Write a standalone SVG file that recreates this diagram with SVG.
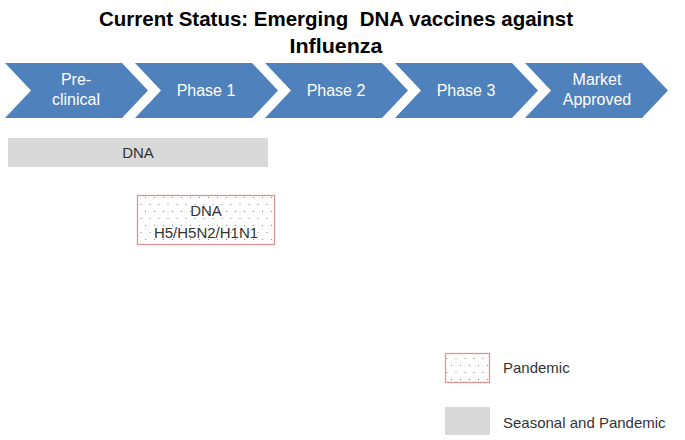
<svg xmlns="http://www.w3.org/2000/svg" width="685" height="440" viewBox="0 0 685 440">
<defs>
<pattern id="dots" width="9" height="14" patternUnits="userSpaceOnUse">
<rect x="1" y="1" width="1" height="1" fill="#8a8a8a"/>
<rect x="5.5" y="8" width="1" height="1" fill="#8a8a8a"/>
</pattern>
<path id="chev" d="M0,0 H117 L143,27.5 L117,55 H0 L26,27.5 Z"/>
</defs>
<style>
.chev{fill:#4F81BD}
.ct{font-family:"Liberation Sans",Arial,sans-serif;font-size:16px;fill:#ffffff;text-anchor:middle}
.t{font-family:"Liberation Sans",Arial,sans-serif;font-size:15px;fill:#333333}
.title{font-family:"Liberation Sans",Arial,sans-serif;font-size:21px;font-weight:bold;fill:#000000;text-anchor:middle;white-space:pre}
.pand{fill:url(#dots);stroke:#D99694;stroke-width:1.3}
.seas{fill:#D9D9D9}
</style>
<rect width="685" height="440" fill="#ffffff"/>
<g id="title">
<text class="title" x="336" y="26" textLength="474" lengthAdjust="spacingAndGlyphs">Current Status: Emerging&#160; DNA vaccines against</text>
<text class="title" x="336" y="53" textLength="93" lengthAdjust="spacingAndGlyphs">Influenza</text>
</g>
<g id="preclinical">
<use href="#chev" class="chev" x="5" y="63"/>
<text class="ct" x="76" y="85">Pre-</text>
<text class="ct" x="76" y="105">clinical</text>
</g>
<g id="phase1">
<use href="#chev" class="chev" x="135" y="63"/>
<text class="ct" x="206" y="96">Phase 1</text>
</g>
<g id="phase2">
<use href="#chev" class="chev" x="265" y="63"/>
<text class="ct" x="336" y="96">Phase 2</text>
</g>
<g id="phase3">
<use href="#chev" class="chev" x="395" y="63"/>
<text class="ct" x="466" y="96">Phase 3</text>
</g>
<g id="market">
<use href="#chev" class="chev" x="525" y="63"/>
<text class="ct" x="597" y="85">Market</text>
<text class="ct" x="597" y="105">Approved</text>
</g>
<g id="connectors"></g>
<g id="dna-seasonal">
<rect class="seas" x="8" y="138" width="260" height="29"/>
<text class="t" x="138" y="158" text-anchor="middle">DNA</text>
</g>
<g id="dna-pandemic">
<rect class="pand" x="137.5" y="195.5" width="137" height="49"/>
<text class="t" x="206" y="216" text-anchor="middle">DNA</text>
<text class="t" x="206" y="238" text-anchor="middle">H5/H5N2/H1N1</text>
</g>
<g id="legend-pandemic">
<rect class="pand" x="445.5" y="353.5" width="44" height="29"/>
<text class="t" x="503" y="373">Pandemic</text>
</g>
<g id="legend-seasonal">
<rect class="seas" x="445" y="407" width="45" height="28"/>
<text class="t" x="503" y="428">Seasonal and Pandemic</text>
</g>
</svg>
